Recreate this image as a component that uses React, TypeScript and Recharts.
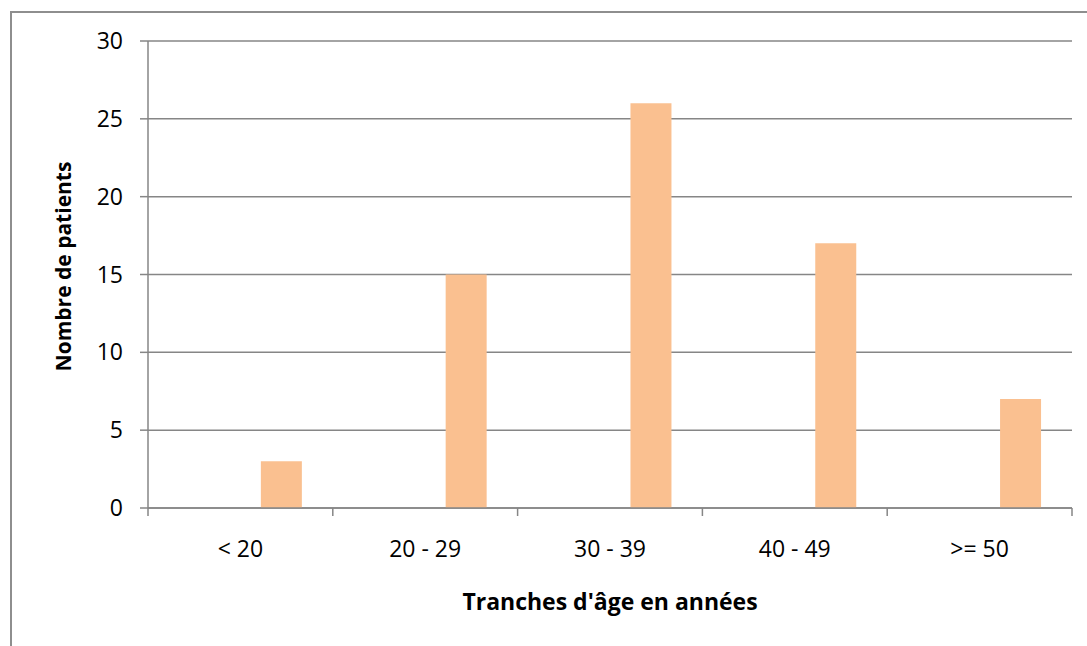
import React from "react";
import { BarChart, Bar, XAxis, YAxis, CartesianGrid } from "recharts";

// Répartition des patients par tranche d'âge
const tranches = ["< 20", "20 - 29", "30 - 39", "40 - 49", ">= 50"];
const patients = [3, 15, 26, 17, 7];
const yTicks = [0, 5, 10, 15, 20, 25, 30];

// the sheet had two empty series before the counts, which pushes each bar to the right of its slot
const data = tranches.map((t, i) => ({
  tranche: t,
  vide1: null,
  vide2: null,
  patients: patients[i],
}));

const GRID = "#868686";
const FONT = "'Open Sans', sans-serif";

// category label plus the small marks between the age groups
const TrancheTick = (props: any) => {
  const { x, y, payload, index } = props;
  const half = payload.offset || 0;
  const last = index === tranches.length - 1;
  return (
    <g>
      <line x1={x - half} x2={x - half} y1={y} y2={y + 8} stroke={GRID} strokeWidth={1.5} />
      {last && (
        <line x1={x + half} x2={x + half} y1={y} y2={y + 8} stroke={GRID} strokeWidth={1.5} />
      )}
      <text x={x} y={y + 49} textAnchor="middle" fontFamily={FONT} fontSize={23} fill="#000">
        {payload.value}
      </text>
    </g>
  );
};

export default function App() {
  return (
    <div
      style={{
        position: "absolute",
        left: 0,
        top: 0,
        width: 1087,
        height: 646,
        overflow: "hidden",
        background: "#fff",
      }}
    >
      <div
        style={{
          position: "absolute",
          left: 10,
          top: 11,
          width: 1200,
          height: 800,
          border: "2px solid #8e8e8e",
        }}
      />
      <BarChart
        width={1087}
        height={646}
        data={data}
        margin={{ top: 41, right: 15, bottom: 0, left: 0 }}
        barCategoryGap="16.7%"
        barGap={0}
        style={{ position: "absolute", left: 0, top: 0, fontFamily: FONT }}
      >
        <CartesianGrid vertical={false} stroke={GRID} strokeWidth={1.5} />
        <XAxis
          dataKey="tranche"
          height={138}
          axisLine={{ stroke: GRID, strokeWidth: 1.5 }}
          tickLine={false}
          tickSize={0}
          tickMargin={0}
          interval={0}
          tick={<TrancheTick />}
          label={{
            content: ({ viewBox }: any) => (
              <text
                x={viewBox.x + viewBox.width / 2}
                y={610}
                textAnchor="middle"
                fontFamily={FONT}
                fontWeight="bold"
                fontSize={23}
                fill="#000"
              >
                Tranches d'âge en années
              </text>
            ),
          }}
        />
        <YAxis
          domain={[0, 30]}
          ticks={yTicks}
          width={148}
          tickSize={8}
          tickMargin={17}
          axisLine={{ stroke: GRID, strokeWidth: 1.5 }}
          tickLine={{ stroke: GRID, strokeWidth: 1.5 }}
          tick={{ fill: "#000", fontSize: 23, fontFamily: FONT }}
          label={{
            content: ({ viewBox }: any) => {
              const x = viewBox.x + 63;
              const y = viewBox.y + viewBox.height / 2 - 8;
              return (
                <text
                  x={x}
                  y={y}
                  transform={`rotate(-90, ${x}, ${y})`}
                  textAnchor="middle"
                  dominantBaseline="central"
                  fontFamily={FONT}
                  fontWeight="bold"
                  fontSize={21}
                  fill="#000"
                >
                  Nombre de patients
                </text>
              );
            },
          }}
        />
        <Bar dataKey="vide1" fill="#4f81bd" isAnimationActive={false} />
        <Bar dataKey="vide2" fill="#c0504d" isAnimationActive={false} />
        <Bar dataKey="patients" fill="#fac090" isAnimationActive={false} />
      </BarChart>
    </div>
  );
}
